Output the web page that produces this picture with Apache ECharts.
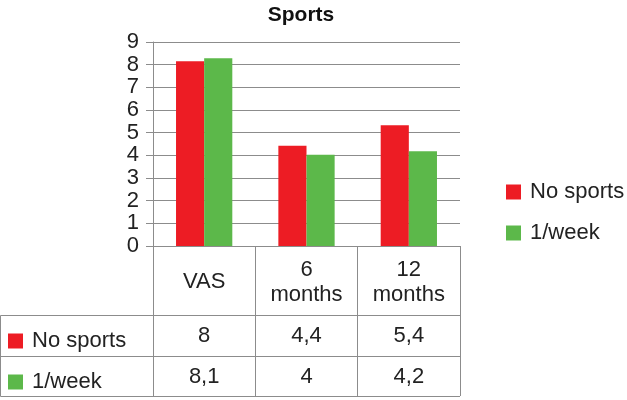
<!DOCTYPE html>
<html>
<head>
<meta charset="utf-8">
<script src="https://cdn.jsdelivr.net/npm/echarts@6/dist/echarts.min.js"></script>
<style>
  html, body { margin: 0; padding: 0; background: #fff; }
  #chart { width: 627px; height: 400px; }
</style>
</head>
<body>
<div id="chart"></div>
<script>
// categories and values
const categories = ['VAS', '6\nmonths', '12\nmonths'];
const noSports = [8.15, 4.42, 5.33];
const oneWeek = [8.28, 4.03, 4.18];
// values as printed in the data table
const noSportsTable = ['8', '4,4', '5,4'];
const oneWeekTable = ['8,1', '4', '4,2'];
const yTicks = { min: 0, max: 9, interval: 1 };

const RED = '#ed1c24';
const GREEN = '#5cb84a';
const LINE = '#8c8c8c';
const FONT = 'Liberation Sans, Arial, sans-serif';
const FS = 22;

const chart = echarts.init(document.getElementById('chart'));

const legendBase = {
  orient: 'vertical',
  icon: 'rect',
  itemWidth: 15,
  itemHeight: 15,
  itemGap: 19,
  textStyle: { fontSize: FS, color: '#222', fontFamily: FONT, padding: [0, 0, 0, 4] },
  data: ['No sports', '1/week']
};

const option = {
  animation: false,
  textStyle: { fontFamily: FONT },
  title: {
    text: 'Sports',
    left: 296,
    top: 0,
    textAlign: 'center',
    textStyle: { fontSize: 21, fontWeight: 'bold', color: '#111', fontFamily: FONT }
  },
  legend: [
    Object.assign({}, legendBase, { left: 501, top: 176 }),
    Object.assign({}, legendBase, { left: 3, top: 325 })
  ],
  grid: { left: 153, right: 167, top: 42, bottom: 154 },
  xAxis: [
    {
      type: 'category',
      data: categories,
      position: 'bottom',
      axisLine: { lineStyle: { color: LINE, width: 1 } },
      axisTick: { show: true, length: 150, lineStyle: { color: LINE, width: 1 } },
      axisLabel: {
        interval: 0,
        fontSize: FS,
        lineHeight: 25,
        color: '#222',
        margin: 36,
        verticalAlign: 'middle'
      }
    },
    {
      type: 'category',
      data: categories,
      position: 'bottom',
      offset: 90,
      axisLine: { show: false },
      axisTick: { show: false },
      axisLabel: {
        interval: 0, fontSize: FS, color: '#222', margin: 0, verticalAlign: 'middle',
        formatter: (v, i) => noSportsTable[i]
      }
    },
    {
      type: 'category',
      data: categories,
      position: 'bottom',
      offset: 131,
      axisLine: { show: false },
      axisTick: { show: false },
      axisLabel: {
        interval: 0, fontSize: FS, color: '#222', margin: 0, verticalAlign: 'middle',
        formatter: (v, i) => oneWeekTable[i]
      }
    }
  ],
  yAxis: {
    type: 'value',
    min: yTicks.min,
    max: yTicks.max,
    interval: yTicks.interval,
    axisLine: { show: true, lineStyle: { color: LINE, width: 1 } },
    axisTick: { show: true, length: 7, lineStyle: { color: LINE, width: 1 } },
    axisLabel: { fontSize: FS, color: '#222', margin: 14 },
    splitLine: { show: true, lineStyle: { color: LINE, width: 1 } }
  },
  series: [
    {
      name: 'No sports',
      type: 'bar',
      data: noSports,
      barGap: 0,
      barCategoryGap: '45%',
      itemStyle: { color: RED }
    },
    {
      name: '1/week',
      type: 'bar',
      data: oneWeek,
      barGap: 0,
      barCategoryGap: '45%',
      itemStyle: { color: GREEN }
    }
  ],
  // table borders for the left column and row separators
  graphic: [
    { type: 'line', shape: { x1: 0.5, y1: 315.5, x2: 460, y2: 315.5 }, style: { stroke: LINE, lineWidth: 1 } },
    { type: 'line', shape: { x1: 0.5, y1: 356.5, x2: 460, y2: 356.5 }, style: { stroke: LINE, lineWidth: 1 } },
    { type: 'line', shape: { x1: 0.5, y1: 396.5, x2: 460, y2: 396.5 }, style: { stroke: LINE, lineWidth: 1 } },
    { type: 'line', shape: { x1: 0.5, y1: 315.5, x2: 0.5, y2: 396.5 }, style: { stroke: LINE, lineWidth: 1 } }
  ]
};

chart.setOption(option);
</script>
</body>
</html>
